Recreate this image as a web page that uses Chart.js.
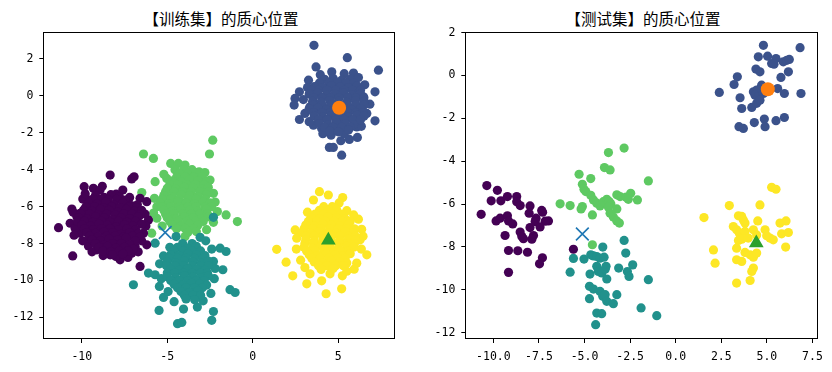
<!DOCTYPE html>
<html lang="zh">
<head>
<meta charset="UTF-8">
<script src="https://cdn.jsdelivr.net/npm/chart.js"></script>
<style>
  body { margin: 0; background: #fff; width: 832px; height: 372px; position: relative; overflow: hidden; }
  .painel { position: absolute; top: 0; width: 416px; height: 372px; }
  .titulo { position: absolute; top: 7px; width: 240px; font-family: "Noto Sans CJK SC", sans-serif; font-size: 15.5px; line-height: 22px; text-align: center; color: #000; white-space: nowrap; }
</style>
</head>
<body>

<div class="titulo" style="left: 101px;">【训练集】的质心位置</div>
<div class="titulo" style="left: 523px;">【测试集】的质心位置</div>

<div class="painel" style="left: 0;"><canvas id="grafico_treino"></canvas></div>
<div class="painel" style="left: 416px;"><canvas id="grafico_teste"></canvas></div>

<script>
// cores (viridis, 5 grupos) e marcadores dos centroides
const coresGrupos = ['#440154', '#3b528b', '#21918c', '#5ec962', '#fde725'];

// centroides (mesmos nos dois graficos)
const centroCirculo = [[5.05, -0.64]];
const centroTriangulo = [[4.42, -7.82]];
const centroX = [[-5.12, -7.40]];

// eixos
const ticksXTreino = [-10, -5, 0, 5];
const labelsXTreino = ['-10', '-5', '0', '5'];
const ticksXTeste = [-10, -7.5, -5, -2.5, 0, 2.5, 5, 7.5];
const labelsXTeste = ['-10.0', '-7.5', '-5.0', '-2.5', '0.0', '2.5', '5.0', '7.5'];
const ticksY = [2, 0, -2, -4, -6, -8, -10, -12];
const labelsY = ['2', '0', '-2', '-4', '-6', '-8', '-10', '-12'];

// ---- conjunto de treino ----
const treinoRoxo = [
  [-11.36,-7.14],[-10.53,-8.67],[-9.86,-4.92],[-10.58,-6.13],[-10.10,-6.36],[-8.34,-4.29],[-7.08,-4.50],[-6.94,-4.38],
  [-9.32,-5.01],[-8.93,-5.10],[-7.99,-5.32],[-9.94,-5.59],[-9.51,-5.64],[-6.59,-5.55],[-6.20,-5.73],[-6.10,-6.72],
  [-6.39,-7.44],[-6.20,-8.07],[-6.59,-9.24],[-7.76,-8.88],[-8.34,-8.61],[-9.12,-8.34],[-9.61,-8.13],[-9.51,-7.71],
  [-10.10,-7.44],[-10.68,-6.90],[-10.39,-7.17],[-7.08,-8.52],[-6.88,-8.16],[-7.37,-8.07],[-7.95,-8.25],[-8.73,-7.98],
  [-7.37,-5.82],[-8.93,-5.82],[-9.80,-6.09],[-10.29,-6.54],
  [-10.5,-6.3],[-10.45,-7.55],[-9.95,-7.85],[-9.8,-5.3],[-8.8,-4.9],[-7.6,-5.1],[-7.2,-5.5],[-6.75,-5.9],
  [-6.3,-6.4],[-6.25,-7.05],[-6.5,-7.85],[-6.7,-8.45],[-7.3,-8.75],[-8.0,-8.7],[-8.75,-8.65],[-9.4,-8.45],
  [-9.2,-5.4],[-8.7,-5.5],[-8.3,-5.35],[-7.8,-5.45],
  [-9.35,-5.6],[-8.85,-5.6],[-8.45,-5.65],[-7.95,-5.6],[-7.45,-5.65],
  [-9.6,-5.8],[-9.1,-5.85],[-8.6,-5.75],[-8.1,-5.9],[-7.6,-5.8],[-7.1,-5.95],
  [-9.75,-6.0],[-9.25,-6.0],[-8.75,-6.05],[-8.25,-6.0],[-7.75,-6.05],[-7.25,-6.0],[-6.8,-6.05],
  [-9.9,-6.2],[-9.4,-6.25],[-8.9,-6.15],[-8.4,-6.2],[-7.9,-6.3],[-7.4,-6.15],[-6.9,-6.25],[-6.5,-6.2],
  [-10.05,-6.4],[-9.55,-6.4],[-9.05,-6.45],[-8.55,-6.4],[-8.05,-6.45],[-7.55,-6.4],[-7.05,-6.4],[-6.6,-6.45],
  [-10.2,-6.6],[-9.7,-6.65],[-9.2,-6.55],[-8.7,-6.6],[-8.2,-6.7],[-7.7,-6.6],[-7.2,-6.65],[-6.7,-6.55],
  [-10.25,-6.8],[-9.85,-6.8],[-9.35,-6.85],[-8.85,-6.8],[-8.35,-6.85],[-7.85,-6.8],[-7.35,-6.85],[-6.85,-6.8],
  [-10.0,-7.0],[-9.5,-7.05],[-9.0,-6.95],[-8.5,-7.0],[-8.0,-7.1],[-7.5,-7.0],[-7.0,-7.05],[-6.5,-6.95],
  [-9.85,-7.2],[-9.35,-7.25],[-8.85,-7.2],[-8.35,-7.2],[-7.85,-7.25],[-7.35,-7.2],[-6.85,-7.25],
  [-9.7,-7.4],[-9.2,-7.45],[-8.7,-7.35],[-8.2,-7.4],[-7.7,-7.5],[-7.2,-7.4],[-6.7,-7.45],
  [-9.55,-7.6],[-9.05,-7.65],[-8.55,-7.6],[-8.05,-7.6],[-7.55,-7.65],[-7.05,-7.6],[-6.6,-7.65],
  [-9.4,-7.8],[-8.9,-7.85],[-8.4,-7.75],[-7.9,-7.8],[-7.4,-7.7],[-6.9,-7.85],
  [-9.2,-8.0],[-8.7,-8.05],[-8.2,-8.0],[-7.7,-8.0],[-7.2,-8.05],
  [-9.0,-8.2],[-8.5,-8.15],[-8.0,-8.25],[-7.5,-8.2],[-7.0,-8.3],
  [-8.75,-8.4],[-8.3,-8.45],[-7.8,-8.4],[-7.3,-8.4],
  [-8.2,-8.6],[-7.6,-8.55]
];
const treinoAzul = [
  [3.58,2.74],[5.53,2.07],[7.35,1.39],[3.70,1.57],[7.15,0.22],[3.26,0.85],[2.73,0.22],[2.47,-0.14],[2.42,-0.50],
  [2.96,-0.20],[2.73,-1.28],[3.55,-1.59],[7.15,-1.35],[4.58,-2.13],[5.15,-2.43],[5.65,-2.36],[6.12,-2.25],
  [4.48,-2.79],[4.71,-2.79],[5.20,-3.21],[4.03,-1.77],[5.89,1.24],[6.18,0.99],[4.62,1.30],[6.18,0.40],
  [6.47,-0.05],[6.67,-0.95],[6.08,-1.68],[3.35,-0.59],
  [3.95,1.15],[5.35,1.2],[6.55,0.6],[6.85,-0.45],[3.05,-0.95],[3.2,0.45],[3.3,-1.4],[6.35,-1.65],[4.1,-2.05],[5.35,-2.05],
  [4.2,0.9],[4.7,0.95],[5.2,0.85],[5.7,0.9],
  [3.9,0.7],[4.45,0.7],[4.95,0.75],[5.45,0.7],[5.9,0.7],
  [3.6,0.5],[4.1,0.45],[4.6,0.55],[5.1,0.5],[5.6,0.45],[6.1,0.55],
  [3.45,0.3],[3.85,0.3],[4.35,0.3],[4.85,0.3],[5.35,0.3],[5.85,0.3],[6.3,0.3],
  [3.3,0.1],[3.8,0.15],[4.3,0.05],[4.8,0.1],[5.3,0.15],[5.8,0.05],[6.3,0.1],
  [3.55,-0.1],[4.05,-0.1],[4.55,-0.1],[5.05,-0.1],[5.55,-0.1],[6.05,-0.1],[6.5,-0.1],
  [3.5,-0.3],[4.0,-0.35],[4.5,-0.25],[5.0,-0.3],[5.5,-0.35],[6.0,-0.25],[6.5,-0.3],
  [3.55,-0.5],[4.05,-0.5],[4.55,-0.5],[5.05,-0.5],[5.55,-0.5],[6.05,-0.5],[6.5,-0.5],
  [3.3,-0.7],[3.8,-0.65],[4.3,-0.75],[4.8,-0.7],[5.3,-0.65],[5.8,-0.75],[6.3,-0.7],
  [3.55,-0.9],[4.05,-0.9],[4.55,-0.9],[5.05,-0.9],[5.55,-0.9],[6.05,-0.9],[6.45,-0.9],
  [3.6,-1.1],[4.1,-1.15],[4.6,-1.05],[5.1,-1.1],[5.6,-1.15],[6.1,-1.05],[6.5,-1.1],
  [3.85,-1.3],[4.35,-1.3],[4.85,-1.3],[5.35,-1.3],[5.85,-1.3],[6.3,-1.3],
  [3.9,-1.5],[4.4,-1.55],[4.9,-1.45],[5.4,-1.5],[5.9,-1.55],
  [4.2,-1.7],[4.7,-1.7],[5.2,-1.7],[5.7,-1.7],
  [4.5,-1.9],[5.0,-1.95],[5.6,-1.85]
];
const treinoTurquesa = [
  [-6.98,-10.23],[-6.10,-9.60],[-5.71,-9.69],[-5.46,-10.32],[-5.22,-10.92],[-5.48,-11.62],[-5.22,-8.67],[-5.71,-7.98],
  [-4.05,-11.55],[-4.40,-12.34],[-4.15,-12.27],[-3.24,-11.44],[-2.30,-11.68],[-2.40,-12.16],[-1.33,-10.50],[-1.03,-10.65],
  [-1.75,-9.42],[-1.56,-8.43],[-1.91,-8.25],[-2.30,-6.58],[-3.08,-7.66],[-4.48,-7.62],[-2.30,-8.97],
  [-5.45,-9.1],[-5.35,-9.9],[-4.95,-10.6],[-4.6,-11.15],[-2.9,-11.1],[-2.45,-10.7],[-2.25,-9.9],[-2.2,-9.35],[-2.4,-8.3],[-2.75,-7.85],[-4.85,-8.2],
  [-4.1,-8.0],[-3.55,-8.0],
  [-4.4,-8.2],[-3.8,-8.25],[-3.3,-8.15],
  [-4.6,-8.4],[-4.05,-8.4],[-3.55,-8.4],[-3.05,-8.4],
  [-4.8,-8.6],[-4.3,-8.65],[-3.8,-8.55],[-3.3,-8.6],[-2.8,-8.65],
  [-4.9,-8.8],[-4.4,-8.8],[-3.9,-8.8],[-3.4,-8.8],[-2.9,-8.8],
  [-5.0,-9.0],[-4.5,-9.05],[-4.0,-8.95],[-3.5,-9.0],[-3.0,-9.05],[-2.6,-8.95],
  [-5.05,-9.2],[-4.55,-9.2],[-4.05,-9.2],[-3.55,-9.2],[-3.05,-9.2],[-2.6,-9.2],
  [-4.8,-9.4],[-4.3,-9.45],[-3.8,-9.35],[-3.3,-9.4],[-2.8,-9.45],
  [-5.0,-9.6],[-4.55,-9.6],[-4.05,-9.6],[-3.55,-9.6],[-3.05,-9.6],[-2.65,-9.6],
  [-5.0,-9.8],[-4.5,-9.85],[-4.0,-9.75],[-3.5,-9.8],[-3.0,-9.85],[-2.6,-9.75],
  [-4.8,-10.0],[-4.3,-10.0],[-3.8,-10.0],[-3.3,-10.0],[-2.85,-10.0],
  [-4.6,-10.2],[-4.1,-10.25],[-3.6,-10.15],[-3.1,-10.2],[-2.7,-10.25],
  [-4.4,-10.4],[-3.9,-10.4],[-3.4,-10.4],[-2.95,-10.4],
  [-4.2,-10.6],[-3.7,-10.65],[-3.2,-10.55],
  [-4.0,-10.8],[-3.5,-10.8],[-3.05,-10.8],
  [-3.9,-11.0],[-3.4,-11.05]
];
const treinoVerde = [
  [-6.39,-3.15],[-5.81,-3.39],[-2.34,-2.40],[-2.53,-3.15],[-4.80,-3.66],[-4.35,-3.66],[-3.96,-3.75],[-3.14,-4.11],
  [-5.71,-4.65],[-5.03,-4.47],[-6.49,-5.24],[-2.50,-4.56],[-2.30,-5.28],[-2.07,-6.27],[-1.56,-6.45],[-0.90,-6.81],
  [-5.61,-6.00],[-5.61,-6.63],[-5.91,-7.44],[-3.96,-7.62],[-3.47,-8.16],
  [-5.2,-4.25],[-2.8,-4.15],[-5.75,-5.55],[-5.8,-6.35],[-2.2,-5.75],[-2.3,-6.85],[-5.3,-7.05],[-2.7,-7.25],
  [-4.55,-4.0],[-4.05,-4.0],[-3.55,-4.0],
  [-4.3,-4.2],[-3.8,-4.25],[-3.3,-4.15],
  [-4.45,-4.4],[-3.95,-4.4],[-3.45,-4.4],[-2.95,-4.4],
  [-4.7,-4.6],[-4.2,-4.65],[-3.7,-4.55],[-3.2,-4.6],[-2.7,-4.65],
  [-4.85,-4.8],[-4.35,-4.8],[-3.85,-4.8],[-3.35,-4.8],[-2.85,-4.8],
  [-5.0,-5.0],[-4.5,-5.05],[-4.0,-4.95],[-3.5,-5.0],[-3.0,-5.05],[-2.6,-4.95],
  [-5.1,-5.2],[-4.6,-5.2],[-4.1,-5.2],[-3.6,-5.2],[-3.1,-5.2],[-2.6,-5.2],
  [-5.2,-5.4],[-4.7,-5.45],[-4.2,-5.35],[-3.7,-5.4],[-3.2,-5.45],[-2.7,-5.35],
  [-5.3,-5.6],[-4.8,-5.6],[-4.3,-5.6],[-3.8,-5.6],[-3.3,-5.6],[-2.8,-5.6],
  [-5.4,-5.8],[-4.9,-5.85],[-4.4,-5.75],[-3.9,-5.8],[-3.4,-5.85],[-2.9,-5.75],[-2.5,-5.8],
  [-5.3,-6.0],[-4.8,-6.0],[-4.3,-6.0],[-3.8,-6.0],[-3.3,-6.0],[-2.8,-6.0],[-2.4,-6.0],
  [-5.2,-6.2],[-4.7,-6.25],[-4.2,-6.15],[-3.7,-6.2],[-3.2,-6.25],[-2.7,-6.15],
  [-5.1,-6.4],[-4.6,-6.4],[-4.1,-6.4],[-3.6,-6.4],[-3.1,-6.4],[-2.65,-6.4],
  [-5.0,-6.6],[-4.5,-6.65],[-4.0,-6.55],[-3.5,-6.6],[-3.0,-6.65],[-2.6,-6.55],
  [-4.85,-6.8],[-4.35,-6.8],[-3.85,-6.8],[-3.35,-6.8],[-2.9,-6.8],
  [-4.7,-7.0],[-4.2,-7.05],[-3.7,-6.95],[-3.2,-7.0],
  [-4.45,-7.2],[-3.95,-7.2],[-3.45,-7.2],
  [-3.8,-7.4],[-3.3,-7.35]
];
const treinoAmarelo = [
  [3.90,-5.19],[4.42,-5.37],[5.26,-5.51],[3.55,-5.64],[5.50,-6.22],[6.18,-6.68],[6.37,-7.23],[6.67,-8.61],
  [1.40,-8.31],[1.95,-9.01],[2.34,-9.75],[3.16,-10.18],[4.03,-10.02],[4.29,-10.72],[5.20,-10.45],[5.24,-9.75],
  [5.93,-9.39],[3.35,-9.64],[4.52,-9.64],[2.48,-7.26],[2.57,-7.71],[6.28,-7.80],[6.08,-9.06],
  [3.2,-6.3],[5.05,-5.8],[5.9,-6.45],[2.55,-8.3],[2.8,-8.9],[3.05,-9.3],[5.5,-9.5],[6.35,-8.3],[6.45,-7.6],
  [4.15,-6.0],[4.65,-6.0],
  [3.9,-6.2],[4.4,-6.25],[4.9,-6.15],
  [3.65,-6.4],[4.15,-6.4],[4.65,-6.4],[5.15,-6.4],
  [3.4,-6.6],[3.9,-6.65],[4.4,-6.55],[4.9,-6.6],[5.4,-6.65],
  [3.25,-6.8],[3.75,-6.8],[4.25,-6.8],[4.75,-6.8],[5.25,-6.8],[5.7,-6.8],
  [3.1,-7.0],[3.6,-7.05],[4.1,-6.95],[4.6,-7.0],[5.1,-7.05],[5.6,-6.95],
  [3.0,-7.2],[3.5,-7.2],[4.0,-7.2],[4.5,-7.2],[5.0,-7.2],[5.5,-7.2],[5.95,-7.2],
  [2.9,-7.4],[3.4,-7.45],[3.9,-7.35],[4.4,-7.4],[4.9,-7.45],[5.4,-7.35],[5.9,-7.4],
  [3.1,-7.6],[3.6,-7.6],[4.1,-7.6],[4.6,-7.6],[5.1,-7.6],[5.6,-7.6],[6.0,-7.6],
  [3.1,-7.8],[3.6,-7.85],[4.1,-7.75],[4.6,-7.8],[5.1,-7.85],[5.6,-7.75],[6.0,-7.8],
  [3.05,-8.0],[3.55,-8.0],[4.05,-8.0],[4.55,-8.0],[5.05,-8.0],[5.55,-8.0],[5.95,-8.0],
  [3.0,-8.2],[3.5,-8.25],[4.0,-8.15],[4.5,-8.2],[5.0,-8.25],[5.5,-8.15],[5.9,-8.2],
  [3.15,-8.4],[3.65,-8.4],[4.15,-8.4],[4.65,-8.4],[5.15,-8.4],[5.6,-8.4],
  [3.3,-8.6],[3.8,-8.65],[4.3,-8.55],[4.8,-8.6],[5.3,-8.65],[5.7,-8.55],
  [3.45,-8.8],[3.95,-8.8],[4.45,-8.8],[4.95,-8.8],[5.4,-8.8],
  [3.6,-9.0],[4.1,-9.05],[4.6,-8.95],[5.1,-9.0],[5.5,-9.05],
  [3.85,-9.2],[4.35,-9.2],[4.85,-9.2],[5.3,-9.2],
  [4.0,-9.4],[4.7,-9.35]
];

// ---- conjunto de teste ----
const testeRoxo = [
  [-10.36,-5.14],[-9.78,-5.36],[-10.12,-5.85],[-10.67,-6.48],[-9.59,-5.85],[-9.23,-5.65],[-8.72,-5.65],[-8.72,-5.89],
  [-9.85,-6.79],[-9.63,-6.66],[-9.23,-6.55],[-9.17,-6.79],[-8.53,-6.07],[-7.99,-6.09],[-8.04,-6.43],[-7.35,-6.30],
  [-7.30,-6.38],[-7.66,-6.66],[-7.71,-6.82],[-6.98,-6.79],[-7.16,-6.80],[-7.44,-7.07],[-8.94,-6.93],[-8.53,-7.31],
  [-8.44,-7.52],[-8.35,-7.62],[-7.99,-7.10],[-9.36,-7.47],[-7.80,-7.47],[-7.89,-7.64],[-9.17,-8.17],[-8.66,-8.18],
  [-8.13,-8.25],[-7.31,-8.51],[-7.47,-8.79],[-9.17,-9.19],[-5.61,-8.11]
];
const testeAzul = [
  [4.81,1.41],[6.82,1.30],[4.53,0.87],[5.04,0.90],[5.50,0.79],[5.26,0.56],[5.39,0.53],[5.90,0.64],[6.09,0.71],
  [6.23,0.75],[6.18,0.17],[4.40,0.30],[4.62,0.17],[5.77,-0.09],[3.38,-0.06],[3.20,-0.42],[2.39,-0.79],[3.53,-1.04],
  [3.62,-1.54],[4.26,-0.76],[4.44,-0.68],[4.35,-0.92],[4.53,-0.99],[4.71,-0.45],[4.81,-0.84],[4.17,-1.49],
  [4.44,-1.30],[4.62,-1.15],[5.59,-0.61],[5.96,-0.84],[6.87,-0.84],[4.86,-2.03],[5.50,-2.11],[5.96,-1.96],
  [4.31,-2.20],[4.90,-2.39],[3.47,-2.39],[3.71,-2.47]
];
const testeTurquesa = [
  [-2.83,-7.70],[-4.00,-8.01],[-2.74,-8.29],[-2.36,-8.84],[-5.61,-8.54],[-5.03,-8.57],[-4.66,-8.37],[-4.51,-8.42],
  [-4.33,-8.45],[-4.15,-8.53],[-3.93,-8.48],[-5.79,-9.18],[-4.70,-9.27],[-4.33,-8.91],[-4.24,-9.15],[-4.06,-9.22],
  [-3.87,-9.04],[-3.82,-8.91],[-3.78,-9.50],[-3.13,-8.99],[-2.65,-9.15],[-2.56,-9.38],[-1.50,-9.53],[-4.73,-9.84],
  [-4.51,-9.97],[-4.15,-10.08],[-4.00,-10.31],[-3.87,-10.23],[-3.78,-10.54],[-3.42,-10.65],[-3.23,-10.23],
  [-4.73,-10.42],[-4.33,-11.09],[-4.06,-11.12],[-1.90,-10.85],[-1.04,-11.21],[-4.39,-11.63]
];
const testeVerde = [
  [-2.83,-3.39],[-3.69,-3.60],[-3.91,-4.30],[-3.60,-4.41],[-5.30,-4.61],[-4.66,-4.81],[-1.50,-4.92],[-5.12,-5.08],
  [-5.03,-5.31],[-4.93,-5.42],[-4.66,-5.59],[-4.51,-5.81],[-4.33,-5.96],[-4.15,-6.09],[-3.97,-5.89],[-3.78,-5.78],
  [-3.64,-5.89],[-3.56,-5.99],[-3.69,-6.15],[-3.23,-5.57],[-3.05,-5.65],[-2.72,-5.68],[-2.47,-5.50],[-2.60,-5.78],
  [-2.10,-5.81],[-6.34,-5.99],[-5.79,-6.07],[-5.12,-6.12],[-5.19,-6.23],[-3.23,-6.23],[-4.57,-6.51],[-3.60,-6.43],
  [-3.42,-6.61],[-3.23,-6.79],[-3.09,-6.89],[-4.57,-7.90]
];
const testeAmarelo = [
  [5.26,-5.22],[5.50,-5.31],[2.94,-6.07],[4.62,-6.04],[1.55,-6.63],[3.44,-6.55],[3.62,-6.58],[3.71,-6.74],
  [3.80,-6.89],[4.50,-6.79],[5.72,-6.89],[6.05,-6.79],[3.16,-7.05],[3.34,-7.20],[3.49,-7.36],[3.80,-7.28],
  [4.26,-7.20],[4.90,-7.20],[3.44,-7.70],[3.62,-7.64],[3.98,-7.59],[4.44,-7.44],[4.99,-7.48],[5.17,-7.59],
  [5.35,-7.67],[5.81,-7.39],[6.18,-7.33],[2.07,-8.14],[2.16,-8.76],[3.34,-8.06],[3.80,-8.26],[4.08,-8.37],
  [4.26,-8.48],[4.44,-8.29],[3.34,-8.60],[3.62,-8.68],[6.03,-8.01],[4.26,-8.99],[4.17,-9.15],[3.34,-9.69],[4.08,-9.57]
];

const moldura = {
  id: 'moldura',
  afterDraw(chart) {
    const { ctx, chartArea: a } = chart;
    ctx.save();
    ctx.strokeStyle = '#000';
    ctx.lineWidth = 1;
    ctx.strokeRect(Math.round(a.left) + 0.5, Math.round(a.top) + 0.5, Math.round(a.right - a.left) - 1, Math.round(a.bottom - a.top) - 1);
    ctx.restore();
  }
};

function pontos(lista) {
  return lista.map(p => ({ x: p[0], y: p[1] }));
}

function montarDatasets(grupos) {
  const ds = [
    { data: pontos(centroX), pointStyle: 'crossRot', pointRadius: 9, borderColor: '#1f77b4', borderWidth: 1.6, backgroundColor: '#1f77b4' },
    { data: pontos(centroTriangulo), pointStyle: 'triangle', pointRadius: 8.5, backgroundColor: '#2ca02c', borderWidth: 0 },
    { data: pontos(centroCirculo), pointStyle: 'circle', pointRadius: 7, backgroundColor: '#ff7f0e', borderWidth: 0 }
  ];
  grupos.forEach(g => {
    ds.push({ data: pontos(g.dados), pointRadius: 4.6, backgroundColor: g.cor, borderWidth: 0 });
  });
  return ds;
}

function criarGrafico(canvas, grupos, cfg) {
  new Chart(document.getElementById(canvas), {
    type: 'scatter',
    data: { datasets: montarDatasets(grupos) },
    options: {
      responsive: true,
      maintainAspectRatio: false,
      animation: false,
      events: [],
      layout: { padding: { top: 32, right: cfg.padDir, bottom: 0, left: 0.3 } },
      plugins: { legend: { display: false }, tooltip: { enabled: false }, title: { display: false } },
      scales: {
        x: {
          min: cfg.xmin, max: cfg.xmax,
          afterFit: s => { s.height = 33; },
          afterBuildTicks: s => { s.ticks = cfg.ticksX.map(v => ({ value: v })); },
          grid: { display: true, drawOnChartArea: false, drawTicks: true, tickLength: 4, color: '#000' },
          border: { display: false },
          ticks: { color: '#000', padding: 7.5, maxRotation: 0, autoSkip: false, font: { family: 'DejaVu Sans Mono', size: 11.5 },
                   callback: (v, i) => cfg.labelsX[i] }
        },
        y: {
          min: cfg.ymin, max: cfg.ymax,
          afterFit: s => { s.width = cfg.larguraY; },
          afterBuildTicks: s => { s.ticks = ticksY.map(v => ({ value: v })); },
          grid: { display: true, drawOnChartArea: false, drawTicks: true, tickLength: 4, color: '#000' },
          border: { display: false },
          ticks: { color: '#000', padding: 6, autoSkip: false, font: { family: 'DejaVu Sans Mono', size: 11.5 },
                   callback: (v, i) => labelsY[i] }
        }
      }
    },
    plugins: [moldura]
  });
}

criarGrafico('grafico_treino', [
  { dados: treinoRoxo, cor: coresGrupos[0] },
  { dados: treinoAzul, cor: coresGrupos[1] },
  { dados: treinoTurquesa, cor: coresGrupos[2] },
  { dados: treinoVerde, cor: coresGrupos[3] },
  { dados: treinoAmarelo, cor: coresGrupos[4] }
], { xmin: -12.25, xmax: 8.36, ymin: -13.17, ymax: 3.46, ticksX: ticksXTreino, labelsX: labelsXTreino, larguraY: 43, padDir: 20.3 });

criarGrafico('grafico_teste', [
  { dados: testeRoxo, cor: coresGrupos[0] },
  { dados: testeAzul, cor: coresGrupos[1] },
  { dados: testeTurquesa, cor: coresGrupos[2] },
  { dados: testeVerde, cor: coresGrupos[3] },
  { dados: testeAmarelo, cor: coresGrupos[4] }
], { xmin: -11.54, xmax: 7.82, ymin: -12.3, ymax: 2.03, ticksX: ticksXTeste, labelsX: labelsXTeste, larguraY: 49, padDir: 13.7 });
</script>
</body>
</html>
